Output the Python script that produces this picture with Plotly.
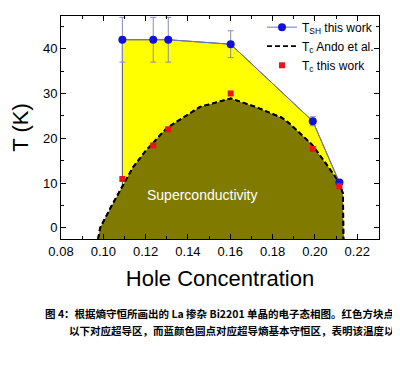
import plotly.graph_objects as go

# T_SH this work (blue circles)
tsh_x = [0.109, 0.1236, 0.1307, 0.1602, 0.199, 0.2116]
tsh_y = [42.0, 42.0, 42.0, 41.0, 23.8, 10.1]
tsh_err = [5.0, 5.0, 5.0, 3.0, 1.0, 0.4]

# Tc this work (red squares)
tc_x = [0.109, 0.1236, 0.1307, 0.1602, 0.199, 0.2116]
tc_y = [10.9, 18.4, 22.0, 30.0, 17.6, 9.3]

# Tc Ando et al. (dashed dome boundary)
ando_x = [0.0975, 0.0985, 0.104, 0.109, 0.114, 0.1197, 0.13, 0.1457, 0.1602,
          0.172, 0.1843, 0.188, 0.1986, 0.205, 0.211, 0.2133, 0.2135]
ando_y = [-2.5, 0.0, 5.0, 9.4, 13.5, 17.0, 22.3, 27.0, 28.9,
          27.0, 24.6, 23.3, 18.6, 14.5, 10.5, 7.7, -2.5]

x_range = [0.08, 0.2303]
y_range = [-2.5, 47.3]

DASH = "5px,3px"

fig = go.Figure()

# yellow region (under T_SH)
fig.add_trace(go.Scatter(
    x=[tsh_x[0]] + tsh_x + [ando_x[-1], tsh_x[0]],
    y=[y_range[0]] + tsh_y + [y_range[0], y_range[0]],
    fill="toself", fillcolor="#ffff00", mode="lines",
    line=dict(color="#555555", width=1), showlegend=False, hoverinfo="skip"))

# olive superconducting dome
fig.add_trace(go.Scatter(
    x=ando_x, y=ando_y, fill="toself", fillcolor="#807a00", mode="lines",
    line=dict(color="black", width=1.8, dash=DASH),
    showlegend=False, hoverinfo="skip"))

# legend entry for Ando curve (dashed line only)
fig.add_trace(go.Scatter(
    x=ando_x, y=ando_y, mode="lines",
    line=dict(color="black", width=1.8, dash=DASH),
    name="T<sub>c</sub> Ando et al.", legendrank=2))

# T_SH line + markers with error bars
fig.add_trace(go.Scatter(
    x=tsh_x, y=tsh_y, mode="lines+markers",
    line=dict(color="#6a74c8", width=1),
    marker=dict(color="#1010e0", size=8, symbol="circle"),
    error_y=dict(type="data", array=tsh_err, visible=True, color="#8a8ab8", thickness=1, width=3),
    name="T<sub>SH</sub> this work", legendrank=1))

# Tc this work
fig.add_trace(go.Scatter(
    x=tc_x, y=tc_y, mode="markers",
    marker=dict(color="#e8141e", size=6, symbol="square"),
    name="T<sub>c</sub> this work", legendrank=3))

fig.add_annotation(x=0.147, y=7.4, xref="x", yref="y", text="Superconductivity",
                   showarrow=False, font=dict(color="white", size=14, family="Liberation Sans"))

cap_font = dict(family="Noto Sans CJK SC", size=10.5, color="black")
fig.add_annotation(x=1.0566, y=-0.332, xref="paper", yref="paper", xanchor="right", yanchor="middle",
                   text="<b>图 4：根据熵守恒所画出的 La 掺杂 Bi2201 单晶的电子态相图。红色方块点</b>",
                   showarrow=False, font=cap_font)
fig.add_annotation(x=1.0566, y=-0.4115, xref="paper", yref="paper", xanchor="right", yanchor="middle",
                   text="<b>以下对应超导区，而蓝颜色圆点对应超导熵基本守恒区，表明该温度以</b>",
                   showarrow=False, font=cap_font)

axis_common = dict(showline=True, linecolor="black", linewidth=1, mirror="ticks",
                   ticks="inside", ticklen=5, tickcolor="black", showgrid=False,
                   zeroline=False, tickfont=dict(size=13, family="Liberation Sans", color="black"))

fig.update_xaxes(range=x_range, dtick=0.02, tick0=0.08, tickformat=".2f",
                 minor=dict(ticks="inside", dtick=0.01, ticklen=3, tickcolor="black"),
                 title=dict(text="Hole Concentration", font=dict(size=22, family="Liberation Sans", color="black"), standoff=13),
                 **axis_common)
fig.update_yaxes(range=y_range, dtick=10, tick0=0,
                 minor=dict(ticks="inside", dtick=5, ticklen=3, tickcolor="black"),
                 title=dict(text="T (K)", font=dict(size=22, family="Liberation Sans", color="black"), standoff=10),
                 **axis_common)

# page body adds an 8px offset; size/margins compensate for it
fig.update_layout(
    width=392, height=366, margin=dict(l=53, r=21, t=5, b=135),
    plot_bgcolor="white", paper_bgcolor="white",
    legend=dict(x=1.0, y=1.015, xanchor="right", yanchor="top", bgcolor="rgba(0,0,0,0)",
                font=dict(size=12, family="Liberation Sans", color="black"),
                tracegroupgap=0),
)

fig.write_html("out.html")
